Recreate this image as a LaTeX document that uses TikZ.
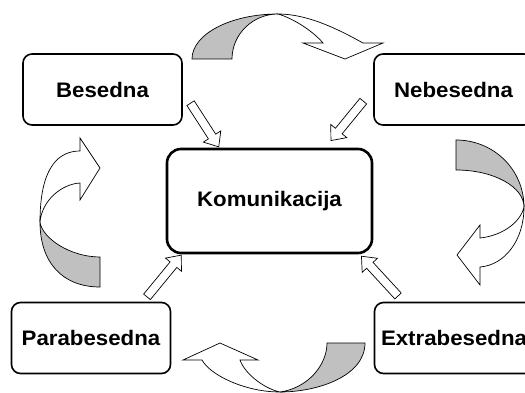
\documentclass[tikz,border=0pt]{standalone}
\usepackage{fontspec}
\usepackage{xcolor}
\usepackage{tikz}
\usetikzlibrary{shapes.arrows}
\newfontfamily\boxfont{Liberation Sans}[FakeStretch=1.06]
\definecolor{arrowgray}{HTML}{C0C0C0}

\begin{document}
\begin{tikzpicture}[x=1pt, y=-1pt,
    termbox/.style={draw, line width=1.6pt, rounded corners=9pt, minimum width=159pt,
      minimum height=71pt, inner sep=0pt, font=\boxfont\bfseries\fontsize{21pt}{25pt}\selectfont},
    centerbox/.style={termbox, line width=2.6pt, rounded corners=14pt, minimum width=205pt,
      minimum height=104pt},
    blockarrow/.style={draw, line width=0.7pt, fill=white, single arrow, single arrow head extend=6pt,
      single arrow tip angle=80, inner xsep=0pt, inner ysep=4pt, text height=0pt, text depth=0pt},
    bendfront/.style={draw, line width=0.7pt, fill=white},
    bendback/.style={draw, line width=0.7pt, fill=arrowgray}]
  \useasboundingbox (0,0) rectangle (525,393);
  \clip (0,0) rectangle (525,393);

  \node[centerbox] (komunikacija) at (269.5,201) {Komunikacija};
  \node[termbox] (besedna) at (102.5,89.5) {Besedna};
  \node[termbox] (nebesedna) at (453.5,89.5) {Nebesedna};
  \node[termbox] (parabesedna) at (91,338) {Parabesedna};
  \node[termbox] (extrabesedna) at (454,338) {Extrabesedna};

  \path ([shift={(7,12.5)}]besedna.east) -- ([shift={(51,-4)}]komunikacija.north west)
    node[midway, sloped, allow upside down, blockarrow, minimum height=52pt] (arrbes) {};
  \path ([shift={(-9,10.5)}]nebesedna.west) -- ([shift={(-40,-10)}]komunikacija.north east)
    node[midway, sloped, allow upside down, blockarrow, minimum height=51pt] (arrneb) {};
  \path ([shift={(-25,-4)}]parabesedna.north east) -- ([shift={(13,4)}]komunikacija.south west)
    node[midway, sloped, allow upside down, blockarrow, minimum height=54pt] (arrpar) {};
  \path ([shift={(25,-5)}]extrabesedna.north west) -- ([shift={(-9,5)}]komunikacija.south east)
    node[midway, sloped, allow upside down, blockarrow, minimum height=54pt] (arrext) {};

  % top bend
  \draw[bendback] (192,59) .. controls (192,34) and (231,14) .. (278,14)
    .. controls (253,14) and (232,34) .. (232,59) -- cycle;
  \draw[bendfront] (278,14) .. controls (310,14) and (343,32) .. (363,43) -- (383,43) -- (345,59)
    -- (303,43) -- (323,43) .. controls (312,30) and (292,18) .. (278,14) -- cycle;
  % right bend
  \draw[bendback] (456,140) .. controls (494,140) and (524,170) .. (524,207)
    .. controls (524,187) and (494,170) .. (456,170) -- cycle;
  \draw[bendfront] (524,207) .. controls (524,240) and (505,265) .. (480,267) -- (480,285) -- (457,255)
    -- (480,225) -- (480,238) .. controls (500,236) and (520,224) .. (524,207) -- cycle;
  % bottom bend
  \draw[bendback] (365,343) .. controls (365,376) and (318,392) .. (280,392)
    .. controls (308,388) and (327,365) .. (327,343) -- cycle;
  \draw[bendfront] (280,392) .. controls (245,392) and (210,375) .. (202,360) -- (183,360) -- (220,343)
    -- (258,360) -- (240,360) .. controls (244,372) and (262,388) .. (280,392) -- cycle;
  % left bend
  \draw[bendback] (100,287) .. controls (62,287) and (40,262) .. (40,222)
    .. controls (42,238) and (70,257) .. (100,257) -- cycle;
  \draw[bendfront] (40,222) .. controls (40,165) and (60,151) .. (80,151) -- (80,138) -- (100,168)
    -- (80,200) -- (80,183) .. controls (62,184) and (42,200) .. (40,222) -- cycle;
\end{tikzpicture}
\end{document}
